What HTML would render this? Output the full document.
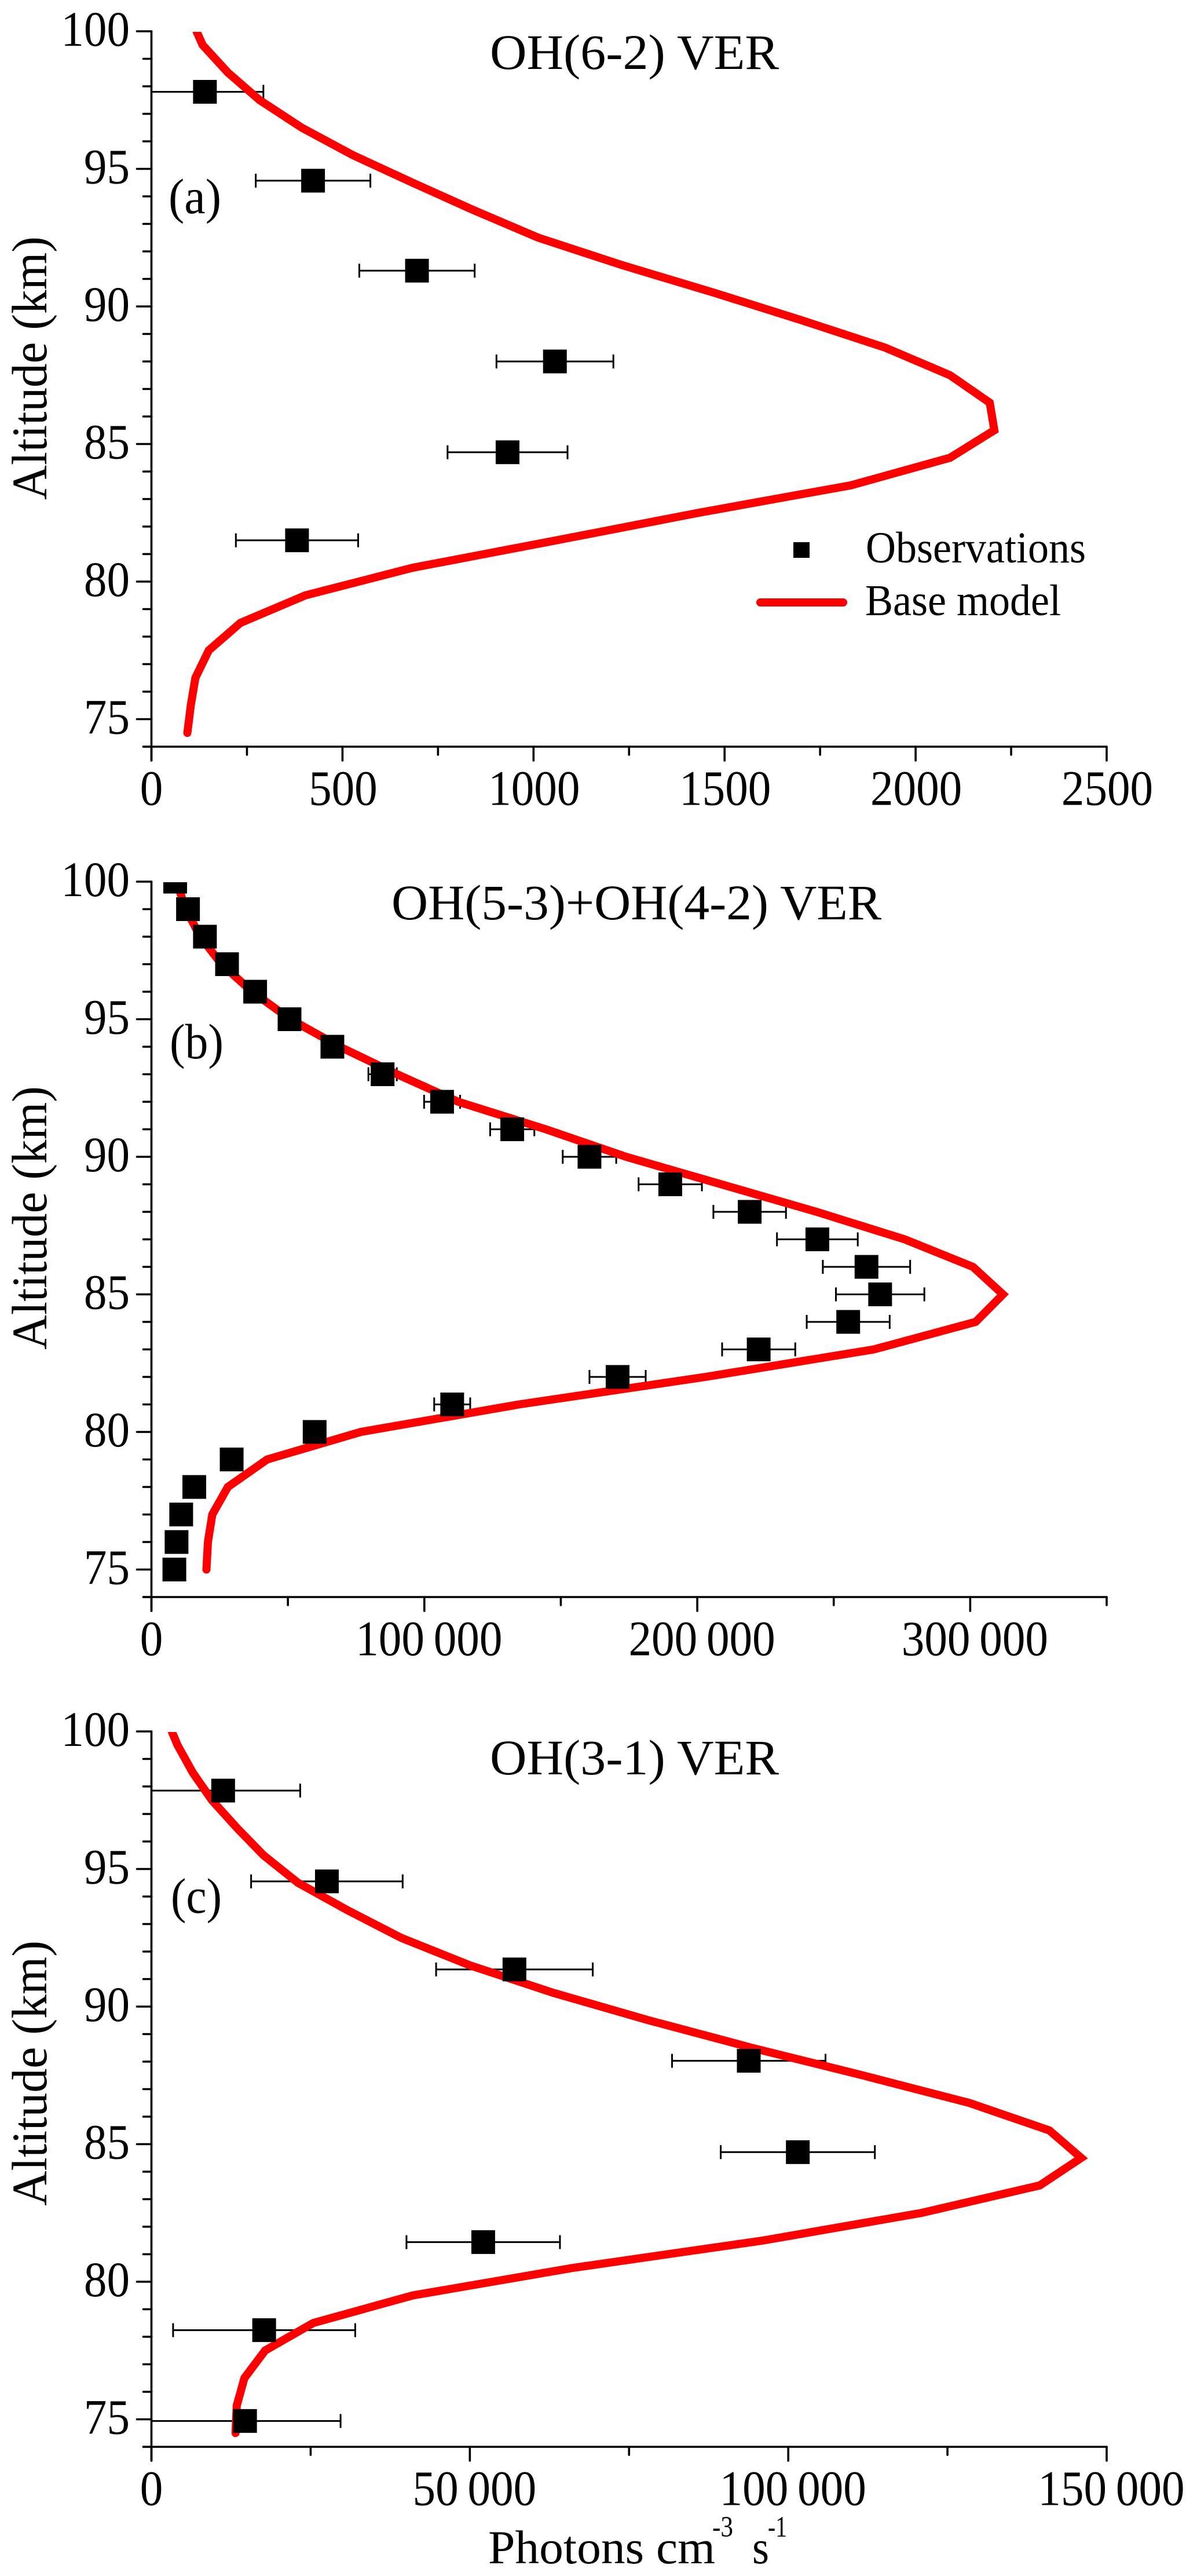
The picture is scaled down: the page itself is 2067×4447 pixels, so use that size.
<!DOCTYPE html>
<html lang="en">
<head>
<meta charset="utf-8">
<title>OH VER altitude profiles</title>
<style>
html,body{margin:0;padding:0;background:#fff;width:2067px;height:4447px;overflow:hidden}
svg{display:block}
text{font-family:"Liberation Serif","DejaVu Serif",serif;fill:#000}
</style>
</head>
<body>
<svg id="figure" xmlns="http://www.w3.org/2000/svg" width="2067" height="4447" viewBox="0 0 2067 4447">
  <rect x="0" y="0" width="2067" height="4447" fill="#fff"/>

  <text x="846" y="119" font-size="86" textLength="499" lengthAdjust="spacingAndGlyphs">OH(6-2) VER</text>
  <text x="291" y="368" font-size="86" textLength="91" lengthAdjust="spacingAndGlyphs">(a)</text>
  <text transform="translate(80,863) rotate(-90)" font-size="86" textLength="455" lengthAdjust="spacingAndGlyphs">Altitude (km)</text>

  <text x="676" y="1587" font-size="86" textLength="846" lengthAdjust="spacingAndGlyphs">OH(5-3)+OH(4-2) VER</text>
  <text x="293" y="1827" font-size="86" textLength="93" lengthAdjust="spacingAndGlyphs">(b)</text>
  <text transform="translate(80,2330) rotate(-90)" font-size="86" textLength="455" lengthAdjust="spacingAndGlyphs">Altitude (km)</text>

  <text x="846" y="3063" font-size="86" textLength="499" lengthAdjust="spacingAndGlyphs">OH(3-1) VER</text>
  <text x="295" y="3302" font-size="86" textLength="88" lengthAdjust="spacingAndGlyphs">(c)</text>
  <text transform="translate(80,3808) rotate(-90)" font-size="86" textLength="458" lengthAdjust="spacingAndGlyphs">Altitude (km)</text>

  <text x="843" y="4425" font-size="82" textLength="392" lengthAdjust="spacingAndGlyphs">Photons cm</text>
  <text x="1230" y="4379" font-size="51" textLength="36" lengthAdjust="spacingAndGlyphs">-3</text>
  <text x="1299" y="4425" font-size="82" textLength="29" lengthAdjust="spacingAndGlyphs">s</text>
  <text x="1326" y="4379" font-size="51" textLength="33" lengthAdjust="spacingAndGlyphs">-1</text>

  <rect x="1370" y="936" width="28" height="27" fill="#000"/>
  <text x="1495" y="971" font-size="76" textLength="380" lengthAdjust="spacingAndGlyphs">Observations</text>
  <line x1="1313" y1="1040" x2="1456" y2="1040" stroke="#ff0000" stroke-width="14" stroke-linecap="round"/>
  <text x="1494" y="1062" font-size="76" textLength="338" lengthAdjust="spacingAndGlyphs">Base model</text>
</svg>

<script>
// Shared axis ticks (km)
const altitudeTickLabels = ['75', '80', '85', '90', '95', '100'];

// Panel (a) OH(6-2)
const aTickLabels = ['0', '500', '1000', '1500', '2000', '2500'];
const aModelAlt = [74.5,75.5,76.5,77.5,78.5,79.5,80.5,81.5,82.5,83.5,84.5,85.5,86.5,87.5,88.5,89.5,90.5,91.5,92.5,93.5,94.5,95.5,96.5,97.5,98.5,99.5,100];
const aModelVal = [94,103,115,150,233,403,683,1060,1432,1831,2090,2206,2194,2090,1921,1701,1472,1232,1012,843,683,527,393,283,200,134,118];
const aObsAlt = [97.8,94.57,91.3,88,84.7,81.5];
const aObsVal = [140,423,695,1056,932,381];
const aObsErr = [153,150,151,153,157,160];

// Panel (b) OH(5-3)+OH(4-2)
const bTickLabels = ['0', '100\u2009000', '200\u2009000', '300\u2009000'];
const bModelAlt = [75,76,77,78,79,80,81,82,83,84,85,86,87,88,89,90,91,92,93,94,95,96,97,98,99,100];
const bModelVal = [20150,20700,22300,28000,42400,76700,134700,203000,264700,302000,312000,301000,276000,243700,208800,173900,144500,112400,90000,69000,50900,36900,25700,17900,12600,9200];
const bObsAlt = [75,76,77,78,79,80,81,82,83,84,85,86,87,88,89,90,91,92,93,94,95,96,97,98,99,100];
const bObsVal = [8400,9200,10900,15700,29400,59800,110200,170800,222500,255300,267000,262000,244000,219200,190100,160500,132200,106500,84700,66300,50600,38000,27700,19600,13400,8700];
const bObsErr = [2500,3000,3800,3800,3500,4000,6600,10300,13400,15200,16200,16000,14800,13300,11600,9800,8100,6600,5200,3500,2800,2100,1500,1100,750,500];

// Panel (c) OH(3-1)
const cTickLabels = ['0', '50\u2009000', '100\u2009000', '150\u2009000'];
const cModelAlt = [74.5,75.5,76.5,77.5,78.5,79.5,80.5,81.5,82.5,83.5,84.5,85.5,86.5,87.5,88.5,89.5,90.5,91.5,92.5,93.5,94.5,95.5,96.5,97.5,98.5,99.5,100];
const cModelVal = [13200,13400,14600,17850,25400,41000,66100,96100,120900,139500,146000,141000,128400,111700,94300,78100,63100,50000,39200,30800,23000,17600,13400,9500,6500,4100,3200];
const cObsAlt = [97.85,94.55,91.35,88.03,84.71,81.44,78.24,74.94];
const cObsVal = [11260,27550,57000,93800,101500,52100,17700,14700];
const cObsErr = [12100,11900,12300,12050,12100,12050,14300,15000];

const NS = 'http://www.w3.org/2000/svg';
const figure = document.getElementById('figure');

function make(tag, parent, props) {
  const node = document.createElementNS(NS, tag);
  for (const key in props) node.setAttribute(key, props[key]);
  parent.appendChild(node);
  return node;
}

function parseTick(label) {
  return Number(label.replace(/\s/g, ''));
}

function drawPanel(id, top, xMax, xTickLabels, modelAlt, modelVal, obsAlt, obsVal, obsErr) {
  const left = 261.5, right = 1911, kmPx = 47.5;
  const yAxisMin = 74, yAxisMax = 100;
  const xScale = v => left + v / xMax * (right - left);
  const yScale = a => top + (yAxisMax - a) * kmPx;
  const bottom = yScale(yAxisMin);

  const group = make('g', figure, {});
  
  

  const clip = make('clipPath', group, { id: 'clip-' + id });
  
  
  make('rect', clip, { x: left, y: top + 1, width: right - left + 40, height: bottom - top + 40 });

  const data = make('g', group, { 'clip-path': 'url(#clip-' + id + ')' });
  
  

  // error bars and observation markers
  obsVal.forEach((v, i) => {
    const cy = yScale(obsAlt[i]);
    const x1 = xScale(v - obsErr[i]), x2 = xScale(v + obsErr[i]);
    const bar = make('path', data, {
      d: 'M' + x1 + ' ' + (cy - 12) + 'V' + (cy + 12) + 'M' + x1 + ' ' + cy + 'H' + x2 + 'M' + x2 + ' ' + (cy - 12) + 'V' + (cy + 12),
      fill: 'none', stroke: '#000', 'stroke-width': 3
    });
    
    
  });

  const pts = modelVal.map((v, i) => xScale(v) + ',' + yScale(modelAlt[i])).join(' ');
  const line = make('polyline', data, {
    points: pts, fill: 'none', stroke: '#ff0000', 'stroke-width': 14,
    'stroke-linecap': 'round', 'stroke-linejoin': 'miter'
  });
  
  

  obsVal.forEach((v, i) => {
    const sq = make('rect', data, {
      x: xScale(v) - 20.5, y: yScale(obsAlt[i]) - 20.5, width: 41, height: 41, fill: '#000'
    });
    
    
  });

  // axes
  const axes = make('g', group, { stroke: '#000', 'stroke-width': 3.6, 'stroke-linecap': 'round', fill: 'none' });
  
  

  const yLine = make('line', axes, { x1: left, y1: top, x2: left, y2: bottom + 24 });
  
  

  const xLine = make('line', axes, { x1: left - 14, y1: bottom, x2: right, y2: bottom });
  
  

  for (let a = yAxisMin; a <= yAxisMax; a++) {
    const major = a % 5 === 0;
    const tick = make('line', axes, { x1: left - (major ? 25 : 14), y1: yScale(a), x2: left, y2: yScale(a) });
    
    
  }

  altitudeTickLabels.forEach(label => {
    const t = make('text', group, {
      transform: 'translate(224,' + (yScale(Number(label)) + 25) + ') scale(0.92,1)',
      'text-anchor': 'end', 'font-size': 86
    });
    
    
    t.textContent = label;
  });

  const xVals = xTickLabels.map(parseTick);
  const step = xVals[1] - xVals[0];
  for (let k = 0; k * step / 2 <= xMax + 1e-6; k++) {
    const v = k * step / 2;
    const major = k % 2 === 0;
    const tick = make('line', axes, { x1: xScale(v), y1: bottom, x2: xScale(v), y2: bottom + (major ? 24 : 14) });
    
    
  }

  xTickLabels.forEach((label, i) => {
    const shift = label.length > 4 ? 8 : 1;
    const t = make('text', group, {
      transform: 'translate(' + (xScale(xVals[i]) + (i === 0 ? 0 : shift)) + ',' + (bottom + 100.5) + ') scale(0.92,1)',
      'text-anchor': 'middle', 'font-size': 86
    });
    
    
    t.textContent = label;
  });
}

drawPanel('a', 54, 2500, aTickLabels, aModelAlt, aModelVal, aObsAlt, aObsVal, aObsErr);
drawPanel('b', 1522, 350000, bTickLabels, bModelAlt, bModelVal, bObsAlt, bObsVal, bObsErr);
drawPanel('c', 2989, 150000, cTickLabels, cModelAlt, cModelVal, cObsAlt, cObsVal, cObsErr);
</script>
</body>
</html>
